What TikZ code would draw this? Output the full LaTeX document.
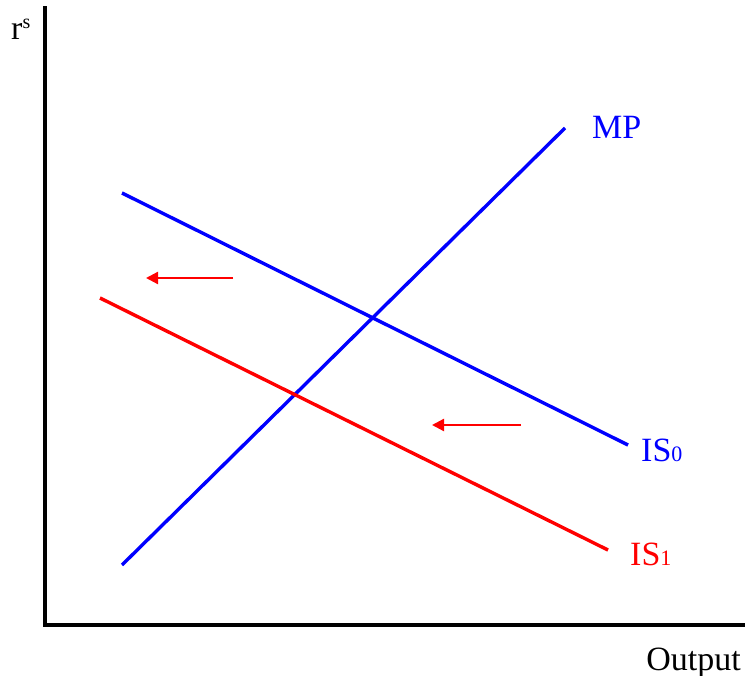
\documentclass[tikz,border=0pt]{standalone}
\usepackage{fontspec}
\setmainfont{Liberation Serif}
\usetikzlibrary{arrows.meta}
\begin{document}
\begin{tikzpicture}[x=1pt,y=-1pt,
  axis/.style={line width=3.2pt,line cap=rect},
  curveblue/.style={blue,line width=3.4pt},
  curvered/.style={red,line width=3.4pt},
  shiftarrow/.style={red,line width=2.2pt,-{Triangle[length=12pt,width=12pt]}},
  lbl/.style={font=\fontsize{34}{34}\selectfont,inner sep=0pt}]
\useasboundingbox (0,0) rectangle (745,676);
\coordinate (ytop) at (45,8);
\coordinate (origin) at (45,625);
\coordinate (xend) at (744,625);
\draw[axis] (ytop) -- (origin) -- (xend);
\coordinate (mpA) at (122,565);
\coordinate (mpB) at (565,128);
\coordinate (is0A) at (122,193);
\coordinate (is0B) at (628,445);
\coordinate (is1A) at (100,298);
\coordinate (is1B) at (608,550);
\draw[curveblue] (mpA) -- (mpB);
\draw[curveblue] (is0A) -- (is0B);
\draw[curvered] (is1A) -- (is1B);
\coordinate (a1s) at (233,278);
\coordinate (a1e) at (146,278);
\coordinate (a2s) at (521,425);
\coordinate (a2e) at (432,425);
\draw[shiftarrow] (a1s) -- (a1e);
\draw[shiftarrow] (a2s) -- (a2e);
\node[lbl,blue,anchor=base west] (mp) at (592,139) {MP};
\node[lbl,blue,anchor=base west] (is0) at (641,461) {IS{\fontsize{22}{22}\selectfont 0}};
\node[lbl,red,anchor=base west] (is1) at (630,565) {IS{\fontsize{22}{22}\selectfont 1}};
\node[lbl,anchor=base east] (out) at (741,670) {Output};
\node[lbl,anchor=base west] (rs) at (11,40) {r\raisebox{11pt}{\fontsize{20}{20}\selectfont s}};
\end{tikzpicture}
\end{document}
